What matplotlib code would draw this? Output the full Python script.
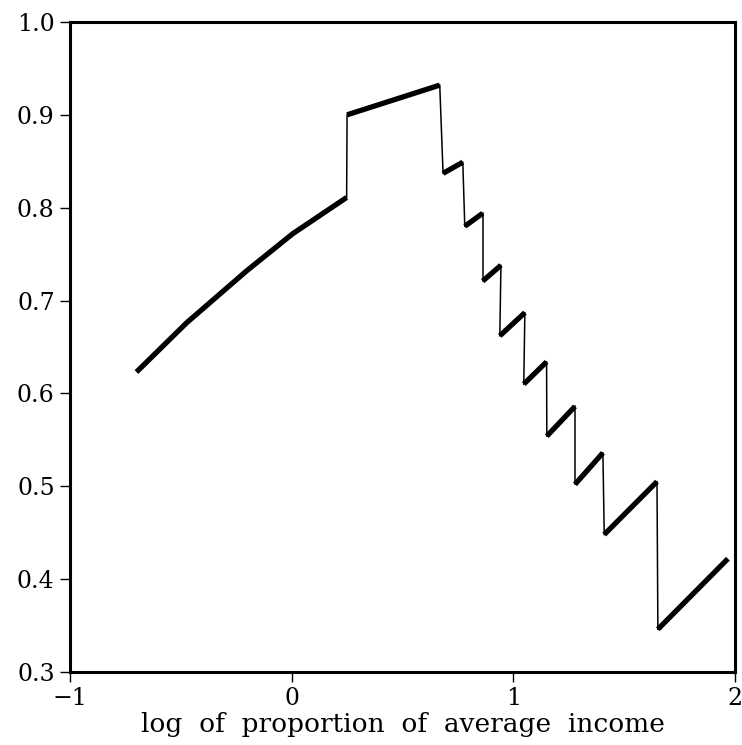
import matplotlib
matplotlib.use('Agg')
import matplotlib.pyplot as plt

# smooth part below the first threshold
curve_x = [-0.70, -0.474, -0.203, 0.005, 0.248]
curve_y = [0.623, 0.676, 0.732, 0.772, 0.811]

# straight bands: start/end x and start/end y
band_x0 = [0.250, 0.683, 0.781, 0.862, 0.939, 1.047, 1.151, 1.278, 1.410, 1.652]
band_x1 = [0.668, 0.772, 0.862, 0.944, 1.052, 1.150, 1.278, 1.404, 1.648, 1.968]
band_y0 = [0.900, 0.837, 0.780, 0.721, 0.662, 0.610, 0.554, 0.502, 0.448, 0.346]
band_y1 = [0.932, 0.849, 0.794, 0.738, 0.687, 0.634, 0.586, 0.536, 0.505, 0.422]

plt.rcParams['font.family'] = ['DejaVu Serif']

fig = plt.figure(figsize=(7.42, 7.45), dpi=100)
ax = fig.add_axes([0.0943, 0.0980, 0.8963, 0.8725])

ax.plot(curve_x, curve_y, color='black', lw=3.8, solid_capstyle='butt')

# thin vertical jumps between pieces
ends_x = [curve_x[-1]] + band_x1[:-1]
ends_y = [curve_y[-1]] + band_y1[:-1]
for i in range(len(band_x0)):
    ax.plot([ends_x[i], band_x0[i]], [ends_y[i], band_y0[i]], color='black', lw=1.1)
    ax.plot([band_x0[i], band_x1[i]], [band_y0[i], band_y1[i]],
            color='black', lw=3.8, solid_capstyle='butt')

ax.set_xlim(-1, 2)
ax.set_ylim(0.3, 1.0)
ax.set_xticks([-1, 0, 1, 2])
ax.set_xticklabels(['\u22121', '0', '1', '2'])
ax.set_yticks([0.3, 0.4, 0.5, 0.6, 0.7, 0.8, 0.9, 1.0])
ax.set_yticklabels(['0.3', '0.4', '0.5', '0.6', '0.7', '0.8', '0.9', '1.0'])
ax.tick_params(direction='out', length=7, width=1, labelsize=17)
ax.tick_params(axis='x', pad=4)
ax.tick_params(axis='y', pad=4)
for s in ax.spines.values():
    s.set_linewidth(2.2)
ax.set_xlabel('log  of  proportion  of  average  income', fontsize=19, labelpad=1)

fig.savefig('out.png', dpi=100)
